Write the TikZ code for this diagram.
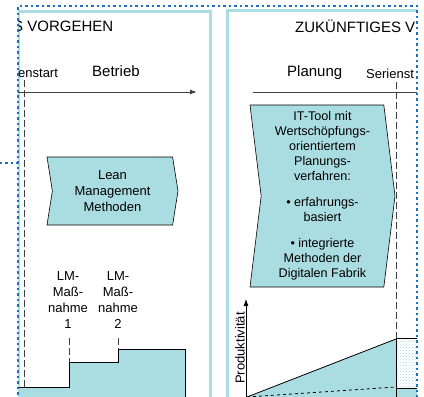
\documentclass[tikz,border=0pt]{standalone}
\usepackage{fontspec}
\setmainfont{Liberation Sans}
\usetikzlibrary{shapes.symbols,patterns,arrows.meta}
\definecolor{lmteal}{RGB}{170,221,226}
\definecolor{lmblue}{RGB}{30,112,192}
\definecolor{lmgray}{RGB}{64,64,64}

\begin{document}
\begin{tikzpicture}[x=1pt,y=-1pt,
    frame/.style={draw=lmteal,line width=3pt},
    dotline/.style={draw=lmblue,line width=2.2pt,dash pattern=on 2.2pt off 3.3pt},
    axis/.style={draw=lmgray,line width=1pt},
    guide/.style={draw=lmgray,line width=0.8pt,dash pattern=on 7pt off 3pt},
    head/.style={inner sep=0pt,anchor=base west,font=\fontsize{15}{18}\selectfont},
    note/.style={inner sep=0pt,anchor=base west,font=\fontsize{13}{16}\selectfont},
    lmtext/.style={inner sep=0pt,align=center,font=\fontsize{13}{16}\selectfont},
    chevron/.style={signal,signal from=west,signal to=east,draw,line width=0.6pt,
        fill=lmteal,align=center,inner sep=0pt}]

    \useasboundingbox (0,0) rectangle (424,397);
    \begin{scope}
    \clip (18,0) rectangle (417,397);
    \draw[frame] (18,400) |- (210,11) -- (210,400);
    \draw[frame] (227,400) |- (430,10);

    \node[head] (alt) at (13,31) {S VORGEHEN};
    \node[head] (neu) at (295,32) {ZUKÜNFTIGES V};
    \node[note] (start1) at (18,77) {enstart};
    \node[head] (betrieb) at (92,76) {Betrieb};
    \node[head] (planung) at (287,76) {Planung};
    \node[note] (start2) at (366,78) {Serienst};

    \coordinate (t0) at (18,92);
    \coordinate (t1) at (197,92);
    \coordinate (t2) at (253,92);
    \coordinate (t3) at (420,92);
    \draw[axis,-{Latex[length=7pt,width=5pt]}] (t0) -- (t1);
    \draw[axis] (t2) -- (t3);

    \coordinate (g0) at (24,80);
    \coordinate (g1) at (24,400);
    \coordinate (g2) at (396,82);
    \coordinate (g3) at (396,338);
    \draw[guide] (g0) -- (g1);
    \draw[guide] (g2) -- (g3);

    \node[chevron,minimum width=131pt,minimum height=68pt,signal pointer angle=162,
        font=\fontsize{13}{16}\selectfont] (lean) at (112.5,191)
        {Lean\\Management\\Methoden};
    \node[chevron,minimum width=145pt,minimum height=182pt,signal pointer angle=166,
        font=\fontsize{12.6}{15}\selectfont] (ittool) at (322.5,196)
        {IT-Tool mit\\Wertschöpfungs-\\orientiertem\\Planungs-\\verfahren:\\[11pt]
        • erfahrungs-\\basiert\\[11pt]• integrierte\\Methoden der\\Digitalen Fabrik};

    \node[lmtext] (lm1) at (68,300) {LM-\\Maß-\\nahme\\1};
    \node[lmtext] (lm2) at (118,300) {LM-\\Maß-\\nahme\\2};
    \coordinate (s1) at (69,362);
    \coordinate (s2) at (118,349);
    \fill[lmteal] (18,387) -| (s1) -| (s2) -| (185,400) -- (18,400) -- cycle;
    \draw (18,387) -| (s1) -| (s2) -| (185,400);
    \draw[guide] (69,338) -- (s1);
    \draw[guide] (118,338) -- (s2);

    \coordinate (o) at (247,397);
    \coordinate (p) at (246,299);
    \coordinate (q) at (396,339);
    \coordinate (r) at (396,387);
    \fill[lmteal] (o) -- (q) -- (396,400) -- (o);
    \fill[lmteal] (396,388) rectangle (420,400);
    \fill[pattern=crosshatch dots,pattern color=lmteal] (396,338) rectangle (420,388);
    \draw[line width=0.8pt] (o) -- (q);
    \draw[line width=0.8pt,dashed] (o) -- (r);
    \draw[line width=0.8pt] (420,338) -- (396,338) -- (396,400);
    \draw[line width=0.8pt] (396,388) -- (420,388);
    \draw[line width=0.8pt,-{Latex[length=7pt,width=5pt]}] (246,400) -- (p);
    \node[lmtext,rotate=90] (prod) at (240,348) {Produktivität};
    \end{scope}

    \draw[dotline] (18,400) |- (417,6) -- (417,400);
    \draw[dotline] (0,163) -- (18,163);
\end{tikzpicture}
\end{document}
